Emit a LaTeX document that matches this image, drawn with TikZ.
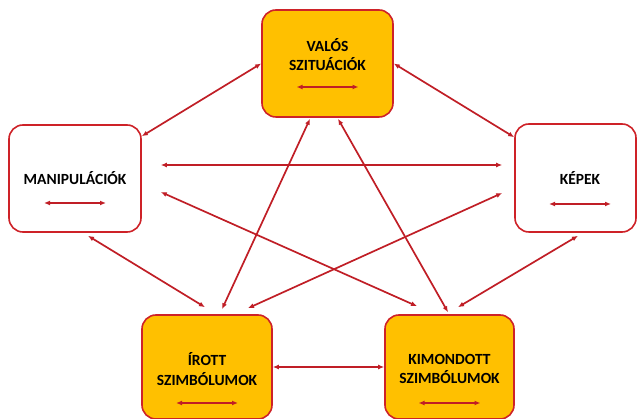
\documentclass[tikz,border=0pt]{standalone}
\usepackage{fontspec}
\setmainfont{Carlito}
\usetikzlibrary{arrows.meta}
\definecolor{boxgold}{RGB}{255,192,0}
\definecolor{boxred}{RGB}{206,34,40}
\definecolor{linkred}{RGB}{192,30,38}

\begin{document}
\begin{tikzpicture}[x=1pt, y=-1pt, >={Latex[length=6pt,width=5pt]},
    box/.style={draw=boxred, line width=1.6pt, rounded corners=14pt, inner sep=0pt},
    gold/.style={box, fill=boxgold},
    lbl/.style={align=center, font=\bfseries\fontsize{15.5}{19.5}\selectfont},
    link/.style={<->, draw=linkred, line width=1.7pt}]

\useasboundingbox (0,0) rectangle (638,419);

% Boxes
\node[gold, minimum width=131pt, minimum height=107pt] (valos) at (327.5,63.5) {};
\node[box, minimum width=132pt, minimum height=107pt] (manip) at (75,178.5) {};
\node[box, minimum width=121pt, minimum height=108pt] (kepek) at (575.5,178) {};
\node[gold, minimum width=130pt, minimum height=104pt] (irott) at (207,367) {};
\node[gold, minimum width=129pt, minimum height=104pt] (kimond) at (449.5,367) {};

% Box texts
\node[lbl] (valos-t) at (327.5,54.5) {VALÓS\\SZITUÁCIÓK};
\node[lbl] (manip-t) at (75,178) {MANIPULÁCIÓK};
\node[lbl] (kepek-t) at (580,178) {KÉPEK};
\node[lbl] (irott-t) at (207,369) {ÍROTT\\SZIMBÓLUMOK};
\node[lbl] (kimond-t) at (449.5,369) {KIMONDOTT\\SZIMBÓLUMOK};

% Small arrows inside the boxes
\foreach \n/\dx/\dy in {valos/0/-23.5, manip/0/-24.5, kepek/4.5/-26, irott/0/-36, kimond/0/-36}
{
    \draw[link] ([xshift=\dx pt-31pt,yshift=\dy pt]\n.center) -- ([xshift=\dx pt+31pt,yshift=\dy pt]\n.center);
}

% Connections
\draw[link] (valos.west) -- ([yshift=-12pt]manip.north east);
\draw[link] (valos.east) -- ([yshift=-14pt]kepek.north west);
\draw[link] ([xshift=19pt,yshift=13.5pt]manip.east) -- ([xshift=-12pt,yshift=13pt]kepek.west);
\draw[link] ([xshift=19pt,yshift=-13.5pt]manip.east) -- ([xshift=-32.5pt,yshift=8pt]kimond.north);
\draw[link] ([xshift=-12pt,yshift=-15pt]kepek.west) -- ([xshift=41pt,yshift=6pt]irott.north);
\draw[link] ([xshift=13pt,yshift=-3pt]manip.south) -- ([xshift=-2pt,yshift=7pt]irott.north);
\draw[link] ([xshift=-17.5pt,yshift=-1pt]valos.south) -- ([xshift=15pt,yshift=5pt]irott.north);
\draw[link] ([xshift=10.5pt,yshift=-1pt]valos.south) -- ([xshift=-1.5pt,yshift=2pt]kimond.north);
\draw[link] ([xshift=2.5pt,yshift=-3pt]kepek.south) -- ([xshift=8.5pt,yshift=7pt]kimond.north);
\draw[link] (irott.east) -- (kimond.west);

\end{tikzpicture}
\end{document}
